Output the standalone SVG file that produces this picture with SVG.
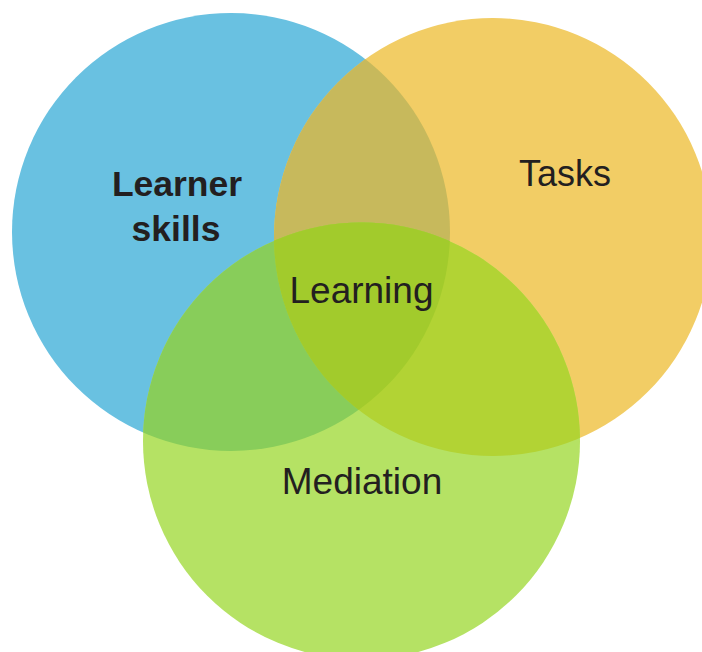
<svg xmlns="http://www.w3.org/2000/svg" width="702" height="652" viewBox="0 0 702 652">
  <style>
    .lbl { font-family: "Liberation Sans", Arial, Helvetica, sans-serif; fill: #231f20; text-anchor: middle; }
    .reg { font-size: 36px; }
    .big { font-size: 37px; }
    .bold { font-size: 35.5px; font-weight: bold; }
  </style>
  <defs>
    <clipPath id="clipBlue"><circle cx="231" cy="232" r="219"/></clipPath>
    <clipPath id="clipOrange"><circle cx="493" cy="237" r="219"/></clipPath>
    <clipPath id="clipGreen"><circle cx="361.5" cy="441" r="218.5"/></clipPath>
  </defs>
  <rect width="702" height="652" fill="#ffffff"/>
  <g id="learner-skills">
    <circle cx="231" cy="232" r="219" fill="#69c1e1"/>
  </g>
  <g id="tasks">
    <circle cx="493" cy="237" r="219" fill="#f2cd65"/>
  </g>
  <g id="mediation">
    <circle cx="361.5" cy="441" r="218.5" fill="#b5e264"/>
  </g>
  <g id="overlaps">
    <circle cx="493" cy="237" r="219" fill="#c7b95c" clip-path="url(#clipBlue)"/>
    <circle cx="361.5" cy="441" r="218.5" fill="#88cd5a" clip-path="url(#clipBlue)"/>
    <circle cx="361.5" cy="441" r="218.5" fill="#b2d334" clip-path="url(#clipOrange)"/>
    <g clip-path="url(#clipOrange)">
      <circle cx="361.5" cy="441" r="218.5" fill="#a2cb2c" clip-path="url(#clipBlue)"/>
    </g>
  </g>
  <g id="labels">
    <text class="lbl bold" x="177" y="196">Learner</text>
    <text class="lbl bold" x="176" y="241">skills</text>
    <text class="lbl reg" x="565" y="186">Tasks</text>
    <text id="learning" class="lbl big" x="361.5" y="303">Learning</text>
    <text class="lbl big" x="362" y="494">Mediation</text>
  </g>
</svg>
